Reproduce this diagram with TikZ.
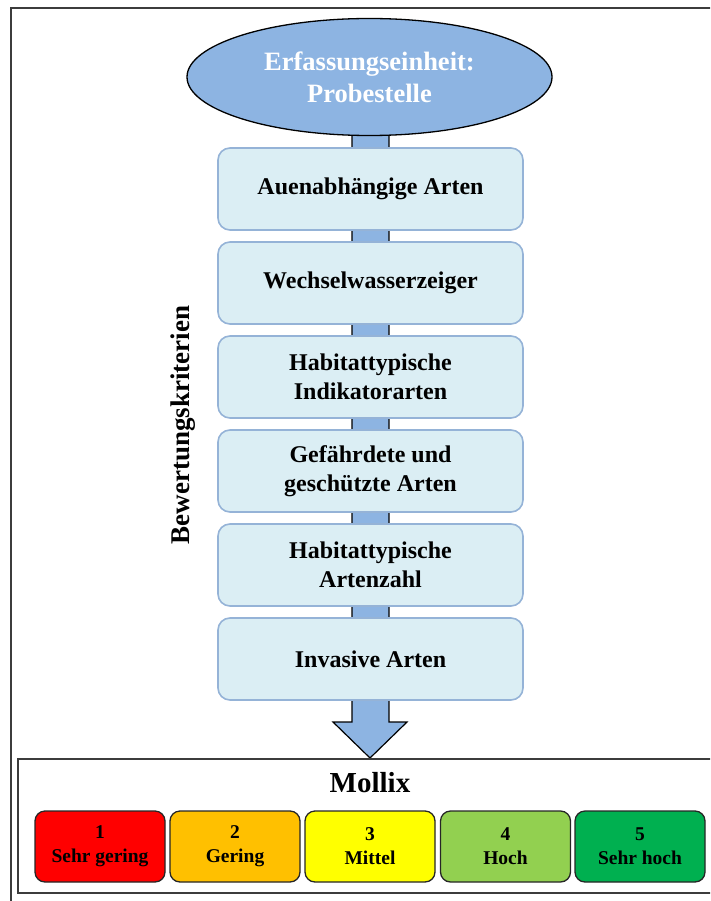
\documentclass[tikz,border=0pt]{standalone}
\usepackage{fontspec}
\setmainfont{Liberation Serif}
\usetikzlibrary{shapes.geometric}
\definecolor{ellblue}{RGB}{141,180,226}
\definecolor{boxfill}{RGB}{219,238,244}
\definecolor{boxline}{RGB}{149,179,215}
\definecolor{frameline}{RGB}{60,60,60}
\definecolor{cred}{RGB}{255,0,0}
\definecolor{corange}{RGB}{255,192,0}
\definecolor{cyellow}{RGB}{255,255,0}
\definecolor{clgreen}{RGB}{146,208,80}
\definecolor{cgreen}{RGB}{0,176,80}
\tikzset{
  ell/.style={ellipse, draw=black, line width=1.3pt, fill=ellblue, minimum width=365pt, minimum height=117pt, inner sep=0pt, text=white, align=center, font=\bfseries\fontsize{26.5}{32}\selectfont},
  critbox/.style={rectangle, rounded corners=12pt, draw=boxline, line width=1.6pt, fill=boxfill, minimum width=305pt, minimum height=82pt, inner sep=0pt, align=center, font=\bfseries\fontsize{24}{29}\selectfont},
  gradebox/.style={rectangle, rounded corners=10pt, draw=black!85, line width=1.3pt, minimum width=130pt, minimum height=71pt, inner sep=0pt, align=center, font=\bfseries\fontsize{19.5}{24}\selectfont},
  shaft/.style={draw=black, line width=1.2pt, fill=ellblue},
  frame/.style={draw=frameline, line width=2pt}
}
\begin{document}
\begin{tikzpicture}[x=1pt,y=-1pt]
\useasboundingbox (0,0) rectangle (710,901);
\clip (0,0) rectangle (710,901);
% outer frame
\draw[frame] (11,905) -- (11,8) -- (715,8);
% big arrow (drawn behind nodes)
\coordinate (tip) at (370,758);
\draw[shaft] (352,120) -- (389,120) -- (389,722) -- (407,722) -- (tip) -- (333,722) -- (352,722) -- cycle;
% top ellipse
\node[ell] (unit) at (369.5,77) {Erfassungseinheit:\\Probestelle};
% criteria boxes
\node[critbox] (c1) at (370.5,189) {Auenabhängige Arten};
\node[critbox] (c2) at (370.5,283) {Wechselwasserzeiger};
\node[critbox] (c3) at (370.5,377) {Habitattypische\\Indikatorarten};
\node[critbox] (c4) at (370.5,471) {Gefährdete und\\geschützte Arten};
\node[critbox] (c5) at (370.5,565) {Habitattypische\\Artenzahl};
\node[critbox] (c6) at (370.5,659) {Invasive Arten};
% side label
\node[rotate=90, font=\bfseries\fontsize{27}{32}\selectfont] (crit) at (183,425) {Bewertungskriterien};
% Mollix box
\draw[frame] (715,759) -- (18,759) -- (18,893) -- (715,893);
\node[font=\bfseries\fontsize{29}{33}\selectfont] (mollix) at (370,783) {Mollix};
\node[gradebox, fill=cred] (g1) at (100,846.5) {1\\Sehr gering};
\node[gradebox, fill=corange] (g2) at (235,846.5) {2\\Gering};
\node[gradebox, fill=cyellow] (g3) at (370,846.5) {3\\Mittel};
\node[gradebox, fill=clgreen] (g4) at (505.5,846.5) {4\\Hoch};
\node[gradebox, fill=cgreen] (g5) at (640,846.5) {5\\Sehr hoch};
\end{tikzpicture}
\end{document}
